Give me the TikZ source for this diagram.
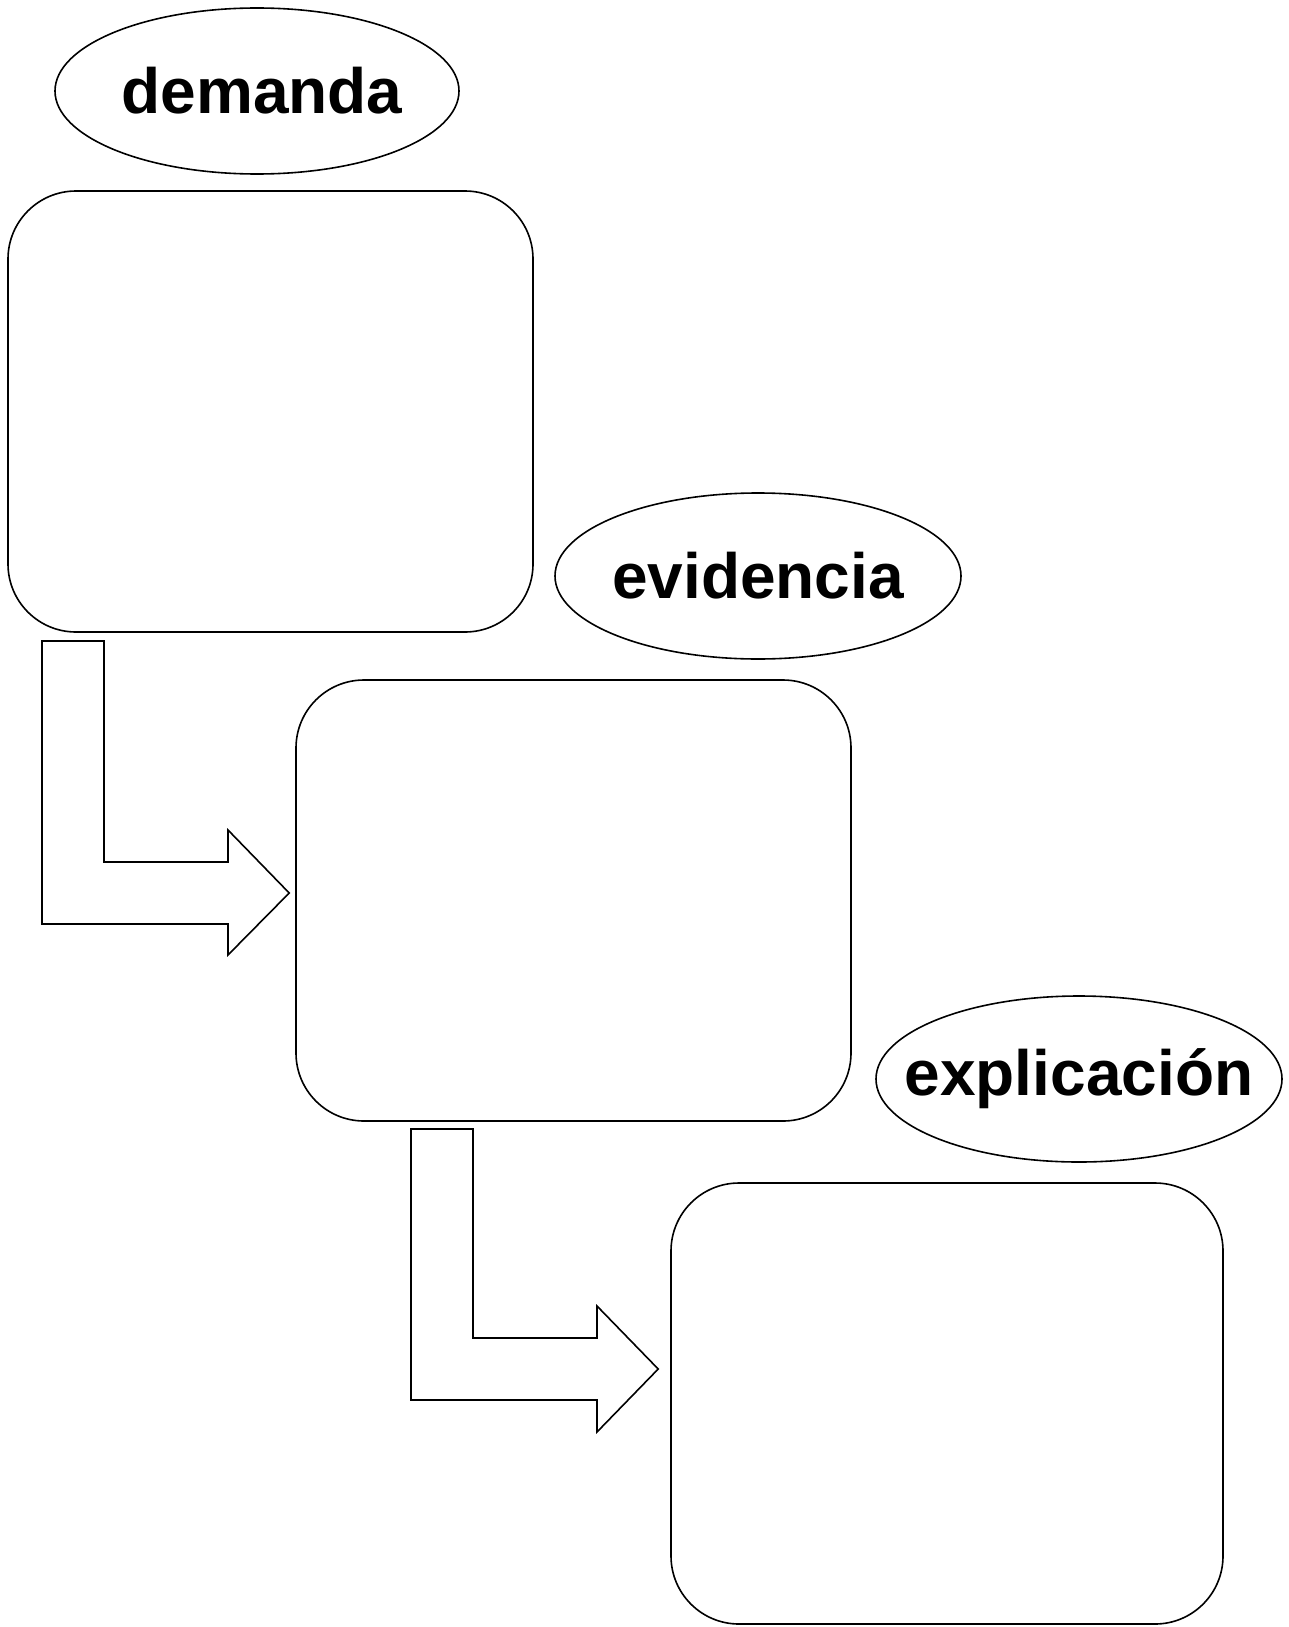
\documentclass[tikz,border=0pt]{standalone}
\usepackage{fontspec}
\setmainfont{Liberation Sans}
\usetikzlibrary{shapes.geometric}
\begin{document}
\begin{tikzpicture}[x=1pt,y=-1pt,
  lbl/.style={ellipse,draw,line width=1.6pt,fill=white,inner sep=0pt,
    minimum width=404pt,minimum height=166pt},
  lbltext/.style={inner sep=0pt,font=\fontsize{64}{72}\selectfont\bfseries},
  card/.style={draw,line width=1.6pt,rounded corners=68pt,fill=white,inner sep=0pt},
  bent/.style={draw,line width=1.6pt,fill=white,line join=miter}]
\useasboundingbox (0,0) rectangle (1289,1627);
% boxes
\node[card,minimum width=525pt,minimum height=441pt] (b1) at (270.5,411.5) {};
\node[card,minimum width=555pt,minimum height=441pt] (b2) at (573.5,900.5) {};
\node[card,minimum width=552pt,minimum height=441pt] (b3) at (947,1403.5) {};
% ellipses
\node[lbl] (e1) at (257,91) {};
\node[lbltext,xshift=5pt] (t1) at (e1) {demanda};
\node[lbl,minimum width=406pt] (e2) at (758,576) {};
\node[lbltext] (t2) at (e2) {evidencia};
\node[lbl,minimum width=406pt] (e3) at (1079,1079) {};
\node[lbltext] (t3) at (e3) {explicación};
% bent arrows
\draw[bent] (42,641) -- (104,641) -- (104,862) -- (228,862) -- (228,830)
  -- ([xshift=-6pt]b2.west |- 0,893) -- (228,955) -- (228,924) -- (42,924) -- cycle;
\draw[bent] (411,1129) -- (473,1129) -- (473,1338) -- (597,1338) -- (597,1306)
  -- ([xshift=-12pt]b3.west |- 0,1369) -- (597,1432) -- (597,1400) -- (411,1400) -- cycle;
\end{tikzpicture}
\end{document}
